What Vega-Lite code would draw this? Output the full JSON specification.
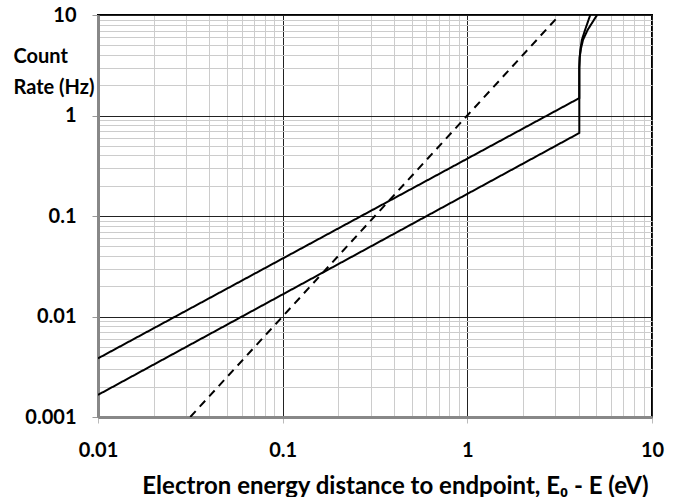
{
  "$schema": "https://vega.github.io/schema/vega-lite/v6.json",
  "width": 554,
  "height": 402,
  "autosize": {"type": "none"},
  "padding": {"left": 98, "top": 15, "right": 26, "bottom": 80},
  "background": "white",
  "config": {
    "font": "Lato",
    "view": {"stroke": "black", "strokeWidth": 2}
  },
  "data": {
    "values": [
      {"series": "A", "order": 1, "x": 0.01, "y": 0.00383},
      {"series": "A", "order": 2, "x": 4.04, "y": 1.49},
      {"series": "A", "order": 3, "x": 4.04, "y": 3.0},
      {"series": "A", "order": 4, "x": 4.06, "y": 3.8},
      {"series": "A", "order": 5, "x": 4.1, "y": 4.6},
      {"series": "A", "order": 6, "x": 4.17, "y": 5.65},
      {"series": "A", "order": 7, "x": 4.34, "y": 7.1},
      {"series": "A", "order": 8, "x": 4.63, "y": 10},
      {"series": "B", "order": 1, "x": 0.01, "y": 0.00166},
      {"series": "B", "order": 2, "x": 4.04, "y": 0.67},
      {"series": "B", "order": 3, "x": 4.04, "y": 3.0},
      {"series": "B", "order": 4, "x": 4.06, "y": 3.8},
      {"series": "B", "order": 5, "x": 4.12, "y": 4.6},
      {"series": "B", "order": 6, "x": 4.23, "y": 5.65},
      {"series": "B", "order": 7, "x": 4.48, "y": 7.1},
      {"series": "B", "order": 8, "x": 5.04, "y": 10},
      {"series": "C", "order": 1, "x": 0.0316, "y": 0.001},
      {"series": "C", "order": 2, "x": 3.16, "y": 10}
    ]
  },
  "mark": {"type": "line", "color": "black", "strokeWidth": 2, "clip": true},
  "encoding": {
    "x": {
      "field": "x",
      "type": "quantitative",
      "scale": {"type": "log", "domain": [0.01, 10], "nice": false},
      "axis": {
        "values": [0.01, 0.02, 0.03, 0.04, 0.05, 0.06, 0.07, 0.08, 0.09, 0.1, 0.2, 0.3, 0.4, 0.5, 0.6, 0.7, 0.8, 0.9, 1, 2, 3, 4, 5, 6, 7, 8, 9, 10],
        "labelExpr": "abs(log(datum.value)/LN10 - round(log(datum.value)/LN10)) < 1e-6 ? format(datum.value, '~g') : ''",
        "grid": true,
        "gridColor": {"condition": {"test": "abs(log(datum.value)/LN10 - round(log(datum.value)/LN10)) < 1e-6", "value": "#222222"}, "value": "#cccccc"},
        "gridWidth": 1,
        "tickColor": {"condition": {"test": "abs(log(datum.value)/LN10 - round(log(datum.value)/LN10)) < 1e-6", "value": "#bbbbbb"}, "value": "transparent"},
        "tickSize": 6,
        "domainColor": "#888888",
        "domainWidth": 3,
        "labelFont": "Lato",
        "labelFontWeight": "bold",
        "labelFontSize": 20,
        "labelColor": "black",
        "labelPadding": 17,
        "labelFlush": false,
        "labelOverlap": false,
        "title": "Electron energy distance to endpoint, E₀ - E (eV)",
        "titleFont": "Lato",
        "titleFontWeight": "bold",
        "titleFontSize": 24,
        "titleColor": "black",
        "titleAnchor": "middle",
        "titleAlign": "center",
        "titleBaseline": "alphabetic",
        "titleX": 297,
        "titleY": 76
      }
    },
    "y": {
      "field": "y",
      "type": "quantitative",
      "scale": {"type": "log", "domain": [0.001, 10], "nice": false},
      "axis": {
        "values": [0.001, 0.002, 0.003, 0.004, 0.005, 0.006, 0.007, 0.008, 0.009, 0.01, 0.02, 0.03, 0.04, 0.05, 0.06, 0.07, 0.08, 0.09, 0.1, 0.2, 0.3, 0.4, 0.5, 0.6, 0.7, 0.8, 0.9, 1, 2, 3, 4, 5, 6, 7, 8, 9, 10],
        "labelExpr": "abs(log(datum.value)/LN10 - round(log(datum.value)/LN10)) < 1e-6 ? format(datum.value, '~g') : ''",
        "grid": true,
        "gridColor": {"condition": {"test": "abs(log(datum.value)/LN10 - round(log(datum.value)/LN10)) < 1e-6", "value": "#222222"}, "value": "#cccccc"},
        "gridWidth": 1,
        "tickColor": {"condition": {"test": "abs(log(datum.value)/LN10 - round(log(datum.value)/LN10)) < 1e-6", "value": "#999999"}, "value": "transparent"},
        "tickSize": 6,
        "domainColor": "#888888",
        "domainWidth": 3,
        "labelFont": "Lato",
        "labelFontWeight": "bold",
        "labelFontSize": 20,
        "labelColor": "black",
        "labelPadding": 16,
        "labelFlush": false,
        "labelOverlap": false,
        "title": ["Count", "Rate (Hz)"],
        "titleFont": "Lato",
        "titleFontWeight": "bold",
        "titleFontSize": 20,
        "titleColor": "black",
        "titleAngle": 0,
        "titleAlign": "left",
        "titleBaseline": "alphabetic",
        "titleLineHeight": 31,
        "titleX": -85,
        "titleY": 47
      }
    },
    "detail": {"field": "series", "type": "nominal"},
    "order": {"field": "order", "type": "quantitative"},
    "strokeDash": {
      "field": "series",
      "type": "nominal",
      "scale": {"domain": ["A", "B", "C"], "range": [[1, 0], [1, 0], [8, 6]]},
      "legend": null
    }
  }
}
